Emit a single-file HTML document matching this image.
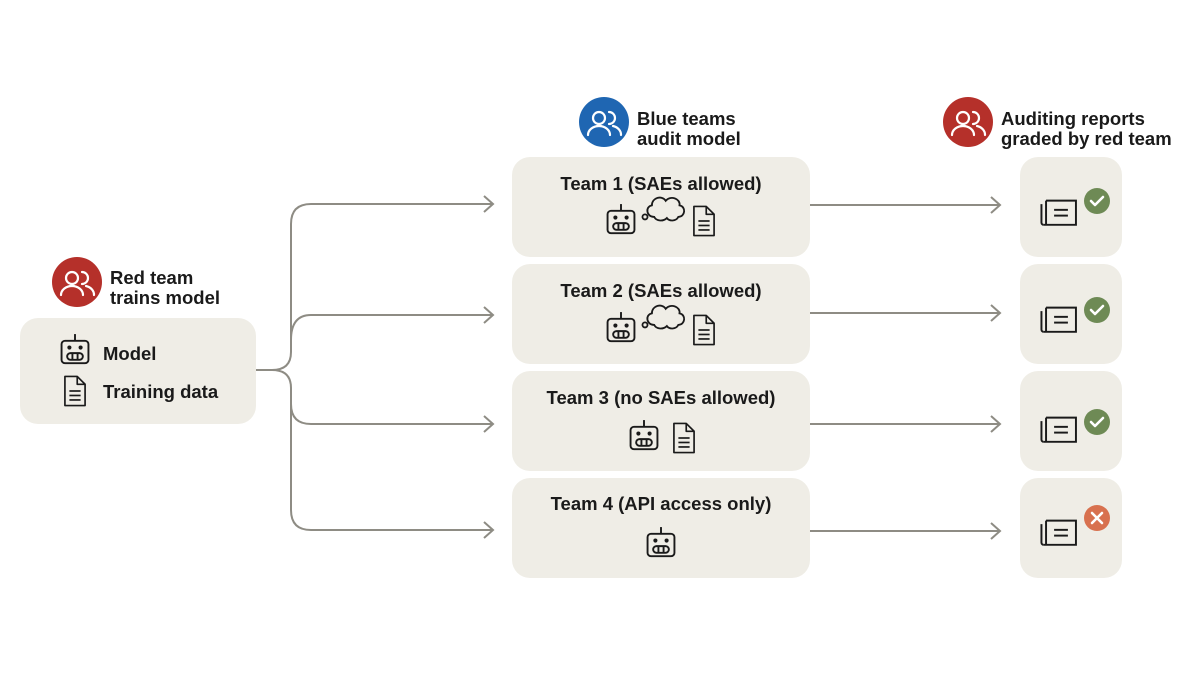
<!DOCTYPE html>
<html><head><meta charset="utf-8"><style>
html,body{margin:0;padding:0;background:#fff;}
svg{display:block;}
text{font-family:"Liberation Sans",sans-serif;font-weight:bold;fill:#1a1a1a;}
</style></head><body>
<svg width="1200" height="675" viewBox="0 0 1200 675" xmlns="http://www.w3.org/2000/svg">
<defs>
<g id="people" fill="none" stroke="#fff" stroke-width="2.2" stroke-linecap="round">
  <circle cx="-5" cy="-6" r="6"/>
  <path d="M-16 11 a11 9 0 0 1 22 0"/>
  <path d="M5 -12 a6 6 0 1 1 0 12"/>
  <path d="M9 2 a11 9 0 0 1 8 9"/>
</g>
<g id="robot" fill="none" stroke="#1a1a1a" stroke-width="1.7">
  <rect x="-12" y="-10" width="24" height="20" rx="3"/>
  <line x1="0" y1="-10" x2="0" y2="-16"/>
  <circle cx="-5" cy="-4" r="1" fill="#1a1a1a"/>
  <circle cx="5" cy="-4" r="1" fill="#1a1a1a"/>
  <rect x="-7" y="1" width="14" height="6" rx="3"/>
  <line x1="-2.3" y1="1" x2="-2.3" y2="7"/><line x1="2.3" y1="1" x2="2.3" y2="7"/>
</g>
<g id="doc" fill="none" stroke="#1a1a1a" stroke-width="1.5" stroke-linejoin="round">
  <path d="M-9 -13 h11 l7 7 v19 h-18 z"/>
  <path d="M2 -13 v7 h7"/>
  <line x1="-5" y1="0" x2="5" y2="0"/><line x1="-5" y1="4" x2="5" y2="4"/><line x1="-5" y1="8" x2="5" y2="8"/>
</g>
<g id="cloud" fill="none" stroke="#1a1a1a" stroke-width="1.6">
  <path d="M-12 6 c-7 0 -8 -9 -2 -10 c0 -7 9 -9 12 -4 c4 -5 13 -2 12 4 c6 1 5 10 -1 10 c-2 4 -8 4 -10 1 c-3 3 -9 3 -11 -1 z"/>
  <circle cx="-20" cy="6" r="2.2"/>
</g>
<g id="report" fill="none" stroke="#1a1a1a" stroke-width="1.7">
  <path d="M-13 -9 h26 v21 h-28"/>
  <path d="M-13 -9 v21"/>
  <path d="M-17 -6 v16 a2 2 0 0 0 2 2"/>
  <line x1="-6" y1="-1" x2="6" y2="-1"/><line x1="-6" y1="4" x2="6" y2="4"/>
</g>
<g id="check"><circle r="13" fill="#6e8a55"/><path d="M-6 0 l4 4 l8 -8" fill="none" stroke="#fff" stroke-width="2.6" stroke-linecap="round" stroke-linejoin="round"/></g>
<g id="cross"><circle r="13" fill="#d8714f"/><path d="M-5 -5 l10 10 M5 -5 l-10 10" fill="none" stroke="#fff" stroke-width="2.6" stroke-linecap="round"/></g>
</defs>

<!-- left -->
<circle cx="77" cy="282" r="25" fill="#b5302a"/>
<use href="#people" x="77" y="284"/>
<text x="110" y="284" font-size="18.5">Red team</text>
<text x="110" y="304" font-size="18.5">trains model</text>
<rect x="20" y="318" width="236" height="106" rx="18" fill="#efede6"/>
<use href="#robot" transform="translate(75,352) scale(1.12)"/>
<text x="103" y="360" font-size="18.5">Model</text>
<use href="#doc" transform="translate(75,391) scale(1.12)"/>
<text x="103" y="398" font-size="18.5">Training data</text>

<!-- connectors -->
<g fill="none" stroke="#8e8c84" stroke-width="2">
  <path d="M256 370 H272 Q291 370 291 352 V224 Q291 204 311 204 H493"/>
  <path d="M291 340 Q291 315 311 315 H493"/>
  <path d="M272 370 Q291 370 291 388 V404 Q291 424 311 424 H493"/>
  <path d="M291 404 V510 Q291 530 311 530 H493"/>
  <path d="M484 196 l9 8 l-9 8 M484 307 l9 8 l-9 8 M484 416 l9 8 l-9 8 M484 522 l9 8 l-9 8"/>
  <path d="M810 205 H1000 M810 313 H1000 M810 424 H1000 M810 531 H1000"/>
  <path d="M991 197 l9 8 l-9 8 M991 305 l9 8 l-9 8 M991 416 l9 8 l-9 8 M991 523 l9 8 l-9 8"/>
</g>

<!-- headers -->
<circle cx="604" cy="122" r="25" fill="#1f66b2"/>
<use href="#people" x="604" y="124"/>
<text x="637" y="125" font-size="18.5">Blue teams</text>
<text x="637" y="145" font-size="18.5">audit model</text>

<circle cx="968" cy="122" r="25" fill="#b5302a"/>
<use href="#people" x="968" y="124"/>
<text x="1001" y="125" font-size="18.5">Auditing reports</text>
<text x="1001" y="145" font-size="18.5">graded by red team</text>

<!-- boxes -->
<g fill="#efede6">
<rect x="512" y="157" width="298" height="100" rx="18"/>
<rect x="512" y="264" width="298" height="100" rx="18"/>
<rect x="512" y="371" width="298" height="100" rx="18"/>
<rect x="512" y="478" width="298" height="100" rx="18"/>
<rect x="1020" y="157" width="102" height="100" rx="18"/>
<rect x="1020" y="264" width="102" height="100" rx="18"/>
<rect x="1020" y="371" width="102" height="100" rx="18"/>
<rect x="1020" y="478" width="102" height="100" rx="18"/>
</g>
<g font-size="18.5" text-anchor="middle">
<text x="661" y="190">Team 1 (SAEs allowed)</text>
<text x="661" y="297">Team 2 (SAEs allowed)</text>
<text x="661" y="404">Team 3 (no SAEs allowed)</text>
<text x="661" y="510">Team 4 (API access only)</text>
</g>
<use href="#robot" transform="translate(621,222) scale(1.12)"/><use href="#cloud" transform="translate(668,210) scale(1.15)"/><use href="#doc" transform="translate(704,221) scale(1.12)"/>
<use href="#robot" transform="translate(621,330) scale(1.12)"/><use href="#cloud" transform="translate(668,318) scale(1.15)"/><use href="#doc" transform="translate(704,330) scale(1.12)"/>
<use href="#robot" transform="translate(644,438) scale(1.12)"/><use href="#doc" transform="translate(684,438) scale(1.12)"/>
<use href="#robot" transform="translate(661,545) scale(1.12)"/>

<use href="#report" transform="translate(1061,211) scale(1.15)"/><use href="#check" x="1097" y="201"/>
<use href="#report" transform="translate(1061,318) scale(1.15)"/><use href="#check" x="1097" y="310"/>
<use href="#report" transform="translate(1061,428) scale(1.15)"/><use href="#check" x="1097" y="422"/>
<use href="#report" transform="translate(1061,531) scale(1.15)"/><use href="#cross" x="1097" y="518"/>
</svg>
</body></html>
